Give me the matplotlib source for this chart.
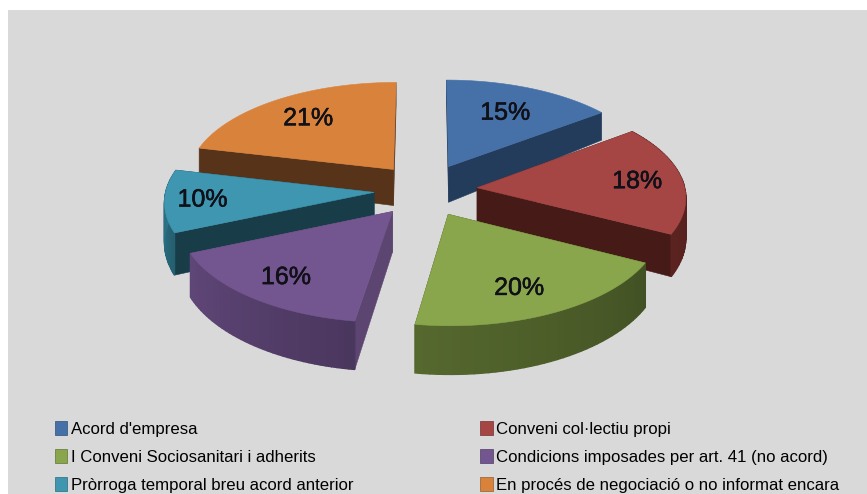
#!/usr/bin/env python3
"""Exploded 3D style pie chart, drawn from the share values with a small projection."""

import numpy as np
import matplotlib
matplotlib.use('Agg')
import matplotlib.pyplot as plt
import matplotlib.patheffects as pe
from matplotlib.patches import Polygon, Rectangle

# Data
categories = ["Acord d'empresa", 'Conveni col·lectiu propi', 'I Conveni Sociosanitari i adherits',
              'Condicions imposades per art. 41 (no acord)', 'Pròrroga temporal breu acord anterior',
              'En procés de negociació o no informat encara']
shares = [15, 18, 20, 16, 10, 21]

# Styles
top_colors = ['#4571a8', '#a54644', '#8aa64c', '#73568f', '#3f96b0', '#d9823b']
face_colors = ['#243c5c', '#451a17', '#3c4a1e', '#5c4671', '#183d49', '#57331a']
rim_colors = ['#243c5c', '#5b2320', '#55682e', '#5f4678', '#2f7a90', '#57331a']
label_radius = [0.67, 0.78, 0.76, 0.77, 0.82, 0.72]
label_dx = [0, 0, -8, 0, 0, 0]
explode_x = [1.0, 0.95, 0.93, 0.9, 0.89, 0.89]

# Projection of the pie plane to pixels
CX, CY = 424, 190
RX, RY = 208, 99
PERSPECTIVE = 0.085
EXPLODE = 0.27
WARP = np.radians(2)


def project(x, y):
    f = 1 + PERSPECTIVE * y
    return CX + RX * x * f, CY + RY * y * f


def depth(y):
    return 39 * (1 + 0.2 * y) if y > 0 else 39 * (1 + 0.35 * y)


def shade(color, k):
    rgb = np.array(matplotlib.colors.to_rgb(color))
    return tuple(rgb * k)


fig = plt.figure(figsize=(8.67, 4.94), dpi=100, facecolor='white')
ax = fig.add_axes([0, 0, 1, 1])
ax.set_xlim(0, 867)
ax.set_ylim(494, 0)
ax.axis('off')
ax.add_patch(Rectangle((8, 10), 870, 490, facecolor='#d9d9d9', edgecolor='none', zorder=0))

edges = np.cumsum([0] + shares) / sum(shares) * 2 * np.pi
edges = edges - WARP * np.sin(edges / 2)  # the tilted view squeezes the angles a little
wedges = []
for i in range(len(shares)):
    a0, a1 = edges[i], edges[i + 1]
    mid = (a0 + a1) / 2
    wedges.append((-np.cos(mid), i, a0, a1, mid))

z = 1
for _, i, a0, a1, mid in sorted(wedges):
    ox, oy = EXPLODE * np.sin(mid) * explode_x[i], -EXPLODE * np.cos(mid)
    theta = np.linspace(a0, a1, 40)
    xs = ox + np.sin(theta)
    ys = oy - np.cos(theta)
    px, py = project(xs, ys)
    apx, apy = project(ox, oy)
    d_rim = np.array([depth(v) for v in ys])
    d_ap = depth(oy)

    # cut faces
    for k in (0, -1):
        face = [(apx, apy), (px[k], py[k]), (px[k], py[k] + d_rim[k]), (apx, apy + d_ap)]
        ax.add_patch(Polygon(face, closed=True, facecolor=face_colors[i], edgecolor=face_colors[i],
                             linewidth=0.4, zorder=z))
    z += 1

    # outer rim, darker towards the start of the slice; back slices hide theirs
    if np.cos(mid) < 0.5:
        for k in range(len(theta) - 1):
            t = k / (len(theta) - 2)
            col = shade(rim_colors[i], 0.78 + 0.22 * t)
            quad = [(px[k], py[k]), (px[k + 1], py[k + 1]),
                    (px[k + 1], py[k + 1] + d_rim[k + 1]), (px[k], py[k] + d_rim[k])]
            ax.add_patch(Polygon(quad, closed=True, facecolor=col, edgecolor=col, linewidth=1.0, zorder=z))
    z += 1

    # top
    outline = [(apx, apy)] + list(zip(px, py))
    ax.add_patch(Polygon(outline, closed=True, facecolor=top_colors[i], edgecolor=top_colors[i],
                         linewidth=0.4, zorder=z))
    z += 1

    lx, ly = project(ox + label_radius[i] * np.sin(mid), oy - label_radius[i] * np.cos(mid))
    ax.text(lx + label_dx[i], ly, f'{shares[i]}%', ha='center', va='center', fontsize=18, color='#101018',
            family='Liberation Sans', zorder=100,
            path_effects=[pe.withStroke(linewidth=0.4, foreground='#101018')])

# legend reads row by row, so pass it column by column
order = [0, 2, 4, 1, 3, 5]
handles = [Rectangle((0, 0), 1, 1, facecolor=top_colors[i], edgecolor=shade(top_colors[i], 0.7), linewidth=0.5)
           for i in order]
ax.legend(handles, [categories[i] for i in order], ncol=2, loc='upper left',
          bbox_to_anchor=(0.063, 0.148), frameon=False, handlelength=0.75, handleheight=0.9,
          handletextpad=0.2, columnspacing=7.56, labelspacing=0.73, borderpad=0, borderaxespad=0,
          prop={'family': 'Liberation Sans', 'size': 12.1})

plt.savefig('out.png', dpi=100, facecolor=fig.get_facecolor())
